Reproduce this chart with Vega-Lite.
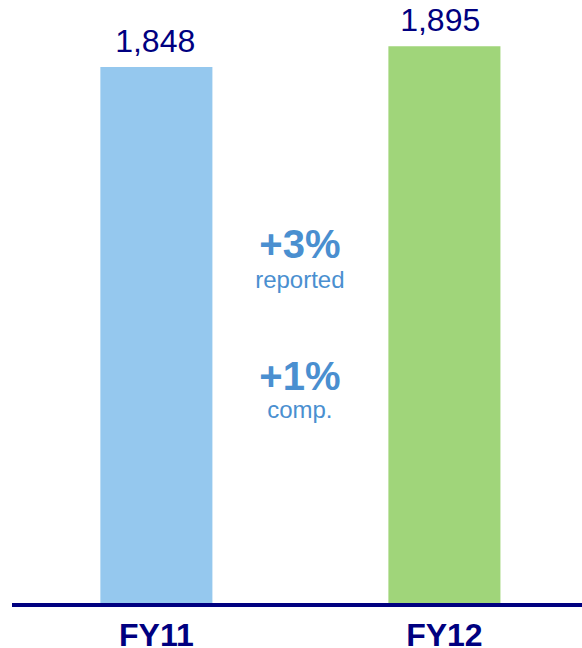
{
  "$schema": "https://vega.github.io/schema/vega-lite/v6.json",
  "width": 570,
  "height": 605,
  "autosize": "none",
  "padding": {"left": 12, "top": 0, "right": 0, "bottom": 43},
  "config": {"view": {"stroke": null}, "font": "Liberation Sans"},
  "data": {"values": [{"year": "FY11", "sales": 1848}, {"year": "FY12", "sales": 1895}]},
  "layer": [
    {
      "mark": {"type": "bar"},
      "encoding": {
        "x": {
          "field": "year", "type": "nominal",
          "scale": {"paddingInner": 0.611, "paddingOuter": 0.295, "align": 0.52},
          "axis": {"title": null, "domain": false, "ticks": false, "tickSize": 0, "labelAngle": 0,
                   "labelFont": "Liberation Sans", "labelFontWeight": "bold", "labelFontSize": 32,
                   "labelColor": "#000080", "labelPadding": 40, "labelBaseline": "alphabetic"}
        },
        "y": {"field": "sales", "type": "quantitative", "scale": {"domain": [630, 2000], "zero": false, "nice": false}, "axis": null},
        "y2": {"datum": 630},
        "color": {"field": "year", "type": "nominal", "scale": {"range": ["#95C8EE", "#A0D57A"]}, "legend": null}
      }
    },
    {
      "mark": {"type": "text", "baseline": "alphabetic", "dy": -15, "dx": -5, "fontSize": 32, "color": "#000080", "font": "Liberation Sans"},
      "encoding": {
        "x": {"field": "year", "type": "nominal", "scale": {"paddingInner": 0.611, "paddingOuter": 0.295, "align": 0.52}, "axis": null},
        "y": {"field": "sales", "type": "quantitative"},
        "text": {"field": "sales", "type": "quantitative", "format": ","}
      }
    },
    {
      "data": {"values": [{}]},
      "mark": {"type": "rule", "color": "#000080", "strokeWidth": 4},
      "encoding": {"y": {"datum": 630}}
    },
    {
      "data": {"values": [{"note": "+3%"}]},
      "mark": {"type": "text", "baseline": "alphabetic", "fontSize": 40, "fontWeight": "bold", "color": "#4A8FD0"},
      "encoding": {
        "x": {"datum": 0.505, "type": "quantitative", "scale": {"domain": [0, 1]}, "axis": null},
        "y": {"datum": 1416},
        "text": {"field": "note"}
      }
    },
    {
      "data": {"values": [{"note": "reported"}]},
      "mark": {"type": "text", "baseline": "alphabetic", "fontSize": 24, "color": "#4A8FD0"},
      "encoding": {
        "x": {"datum": 0.505, "type": "quantitative", "scale": {"domain": [0, 1]}, "axis": null},
        "y": {"datum": 1348},
        "text": {"field": "note"}
      }
    },
    {
      "data": {"values": [{"note": "+1%"}]},
      "mark": {"type": "text", "baseline": "alphabetic", "fontSize": 40, "fontWeight": "bold", "color": "#4A8FD0"},
      "encoding": {
        "x": {"datum": 0.505, "type": "quantitative", "scale": {"domain": [0, 1]}, "axis": null},
        "y": {"datum": 1117},
        "text": {"field": "note"}
      }
    },
    {
      "data": {"values": [{"note": "comp."}]},
      "mark": {"type": "text", "baseline": "alphabetic", "fontSize": 24, "color": "#4A8FD0"},
      "encoding": {
        "x": {"datum": 0.505, "type": "quantitative", "scale": {"domain": [0, 1]}, "axis": null},
        "y": {"datum": 1053},
        "text": {"field": "note"}
      }
    }
  ],
  "resolve": {"scale": {"x": "independent"}, "axis": {"x": "independent"}}
}
